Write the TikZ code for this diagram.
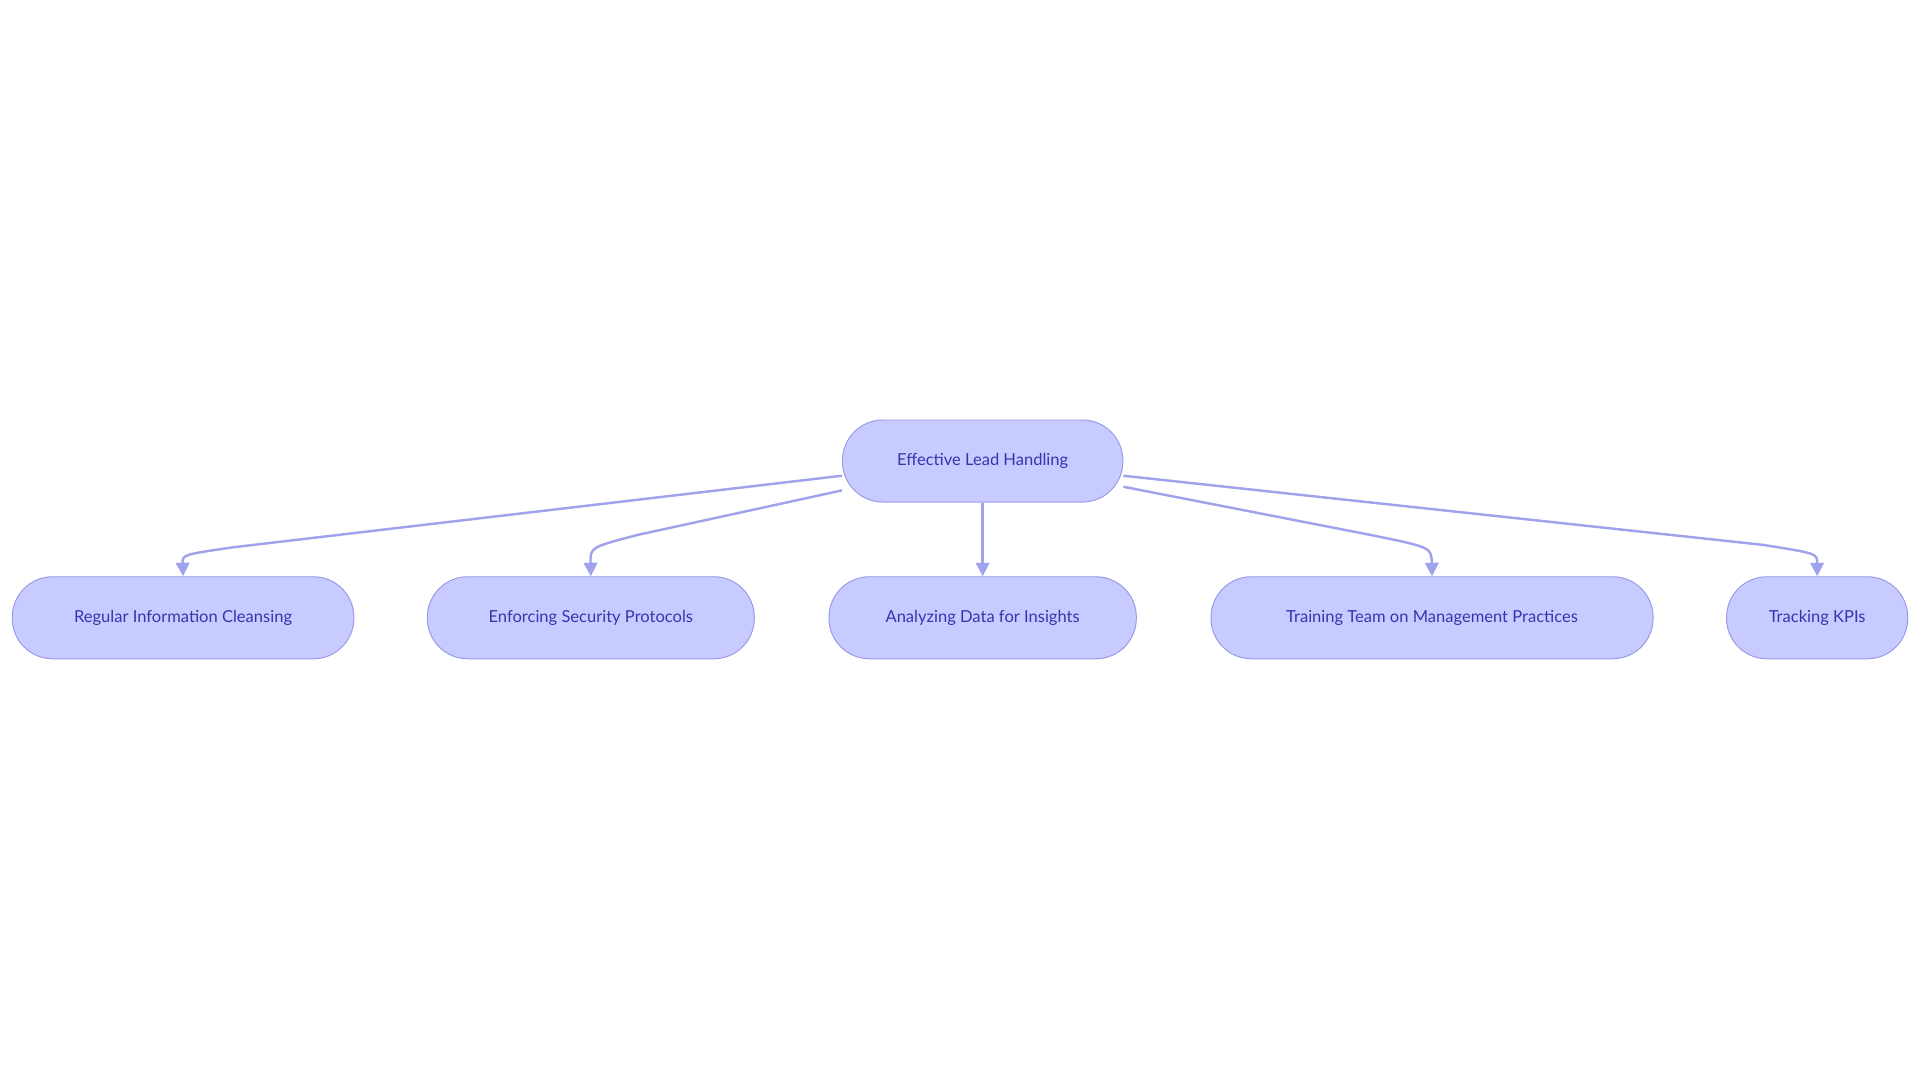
\documentclass[tikz,border=0pt]{standalone}
\usepackage{fontspec}
\setmainfont{Lato}
\usetikzlibrary{calc,arrows.meta}
\definecolor{nfill}{HTML}{C8CBFF}
\definecolor{nline}{HTML}{9A9AE6}
\definecolor{ntext}{HTML}{3535AE}
\definecolor{eline}{HTML}{A0A3EC}
\begin{document}
\begin{tikzpicture}[x=1pt,y=-1pt,
  box/.style={draw=nline,fill=nfill,rounded corners=33pt,minimum height=67pt,text=ntext,font=\fontsize{13.5}{16}\selectfont,inner sep=0pt,line width=0.8pt},
  edge/.style={draw=eline,line width=2pt,-{Triangle[length=11pt,width=11pt]}}]
\useasboundingbox (0,0) rectangle (1568,884);
\node[box,minimum width=229pt] (root) at (802.5,376.5) {Effective Lead Handling};
\node[box,minimum width=279pt] (a) at (149.5,504.5) {Regular Information Cleansing};
\node[box,minimum width=267pt] (b) at (482.5,504.5) {Enforcing Security Protocols};
\node[box,minimum width=251pt] (c) at (802.5,504.5) {Analyzing Data for Insights};
\node[box,minimum width=361pt] (d) at (1169.5,504.5) {Training Team on Management Practices};
\node[box,minimum width=148pt] (e) at (1484,504.5) {Tracking KPIs};
\draw[edge] ($(root.west)+(0,12)$) -- (190,447) .. controls (149,453) .. (a.north);
\draw[edge] ($(root.west)+(0,24)$) -- (520,437) .. controls (482,447) .. (b.north);
\draw[edge] (root.south) -- (c.north);
\draw[edge] ($(root.east)+(0,21)$) -- (1120,437) .. controls (1169,447) .. (d.north);
\draw[edge] ($(root.east)+(0,12)$) -- (1440,445) .. controls (1484,452) .. (e.north);
\end{tikzpicture}
\end{document}
